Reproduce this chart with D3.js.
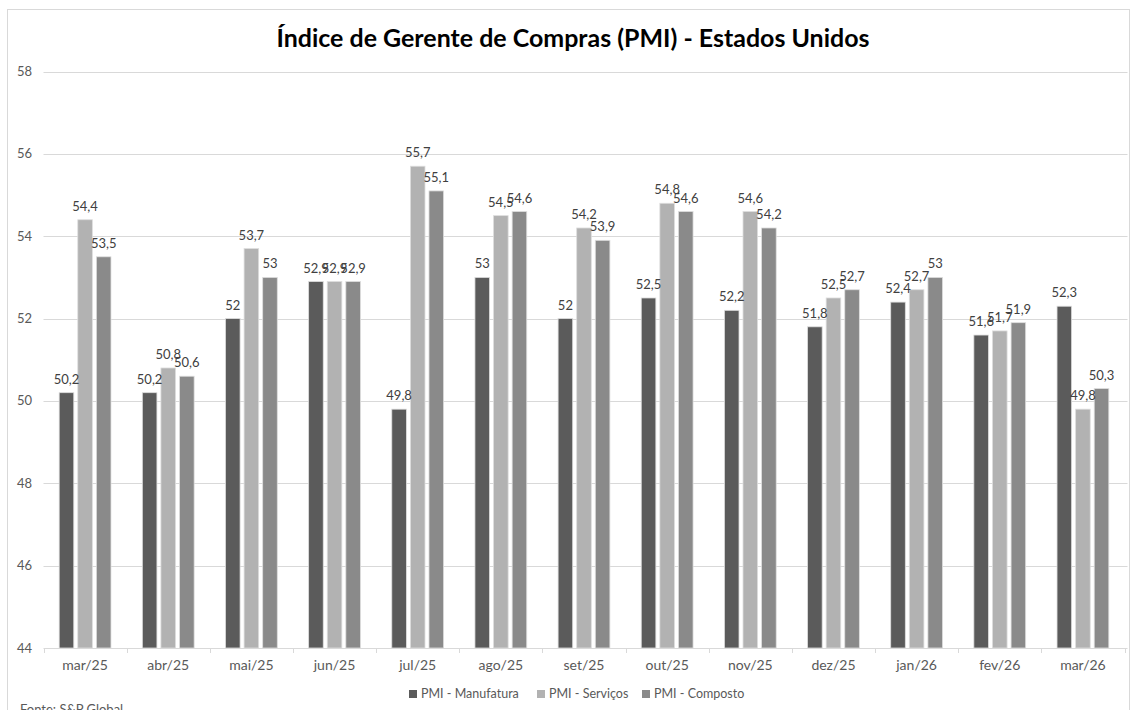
<!DOCTYPE html>
<html><head><meta charset="utf-8">
<script src="https://cdn.jsdelivr.net/npm/d3@7"></script>
<style>
html,body{margin:0;padding:0;background:#fff;}
svg{display:block;font-family:Lato,"Open Sans",sans-serif;}
</style></head>
<body>
<svg id="chart" width="1137" height="710"></svg>
<script>
const categories = ["mar/25","abr/25","mai/25","jun/25","jul/25","ago/25","set/25","out/25","nov/25","dez/25","jan/26","fev/26","mar/26"];
const manufatura = [50.2,50.2,52,52.9,49.8,53,52,52.5,52.2,51.8,52.4,51.6,52.3];
const servicos   = [54.4,50.8,53.7,52.9,55.7,54.5,54.2,54.8,54.6,52.5,52.7,51.7,49.8];
const composto   = [53.5,50.6,53,52.9,55.1,54.6,53.9,54.6,54.2,52.7,53,51.9,50.3];
const seriesNames = ["PMI - Manufatura","PMI - Serviços","PMI - Composto"];
const yTicks = [44,46,48,50,52,54,56,58];
const title = "Índice de Gerente de Compras (PMI) - Estados Unidos";
const source = "Fonte: S&P Global";

const colors = ["#5b5b5b","#b2b2b2","#8a8a8a"];
const seriesVals = [manufatura, servicos, composto];

const svg = d3.select("#chart");
const pLeft = 43.5, pRight = 1124.5, pTop = 71.5, pBottom = 648;

svg.append("rect").attr("x",7.5).attr("y",9.5).attr("width",1122).attr("height",720)
  .attr("fill","#fff").attr("stroke","#d9d9d9").attr("stroke-width",1);

const x = d3.scaleBand().domain(categories).range([pLeft,pRight]).paddingInner(0).paddingOuter(0);
const y = d3.scaleLinear().domain([44,58]).range([pBottom,pTop]);

// gridlines
svg.append("g").selectAll("line").data(yTicks.filter(t=>t>44)).join("line")
  .attr("x1",pLeft).attr("x2",pRight+3)
  .attr("y1",d=>Math.round(y(d))+0.5).attr("y2",d=>Math.round(y(d))+0.5)
  .attr("stroke","#d9d9d9").attr("stroke-width",1);

// y labels
svg.append("g").selectAll("text").data(yTicks).join("text")
  .attr("x",32).attr("y",d=>y(d)+4.5).attr("text-anchor","end")
  .attr("font-size",13).attr("fill","#595959").text(d=>d);

// bars
const step = 18.6, bw = 14.6;
const g = svg.append("g");
categories.forEach((c,i)=>{
  const cx = x(c)+x.bandwidth()/2;
  seriesVals.forEach((vals,s)=>{
    const bx = cx + (s-1)*step - bw/2;
    g.append("rect").attr("x",bx).attr("y",y(vals[i])).attr("width",bw)
      .attr("height",y(44)-y(vals[i]))
      .attr("fill",colors[s]).attr("stroke","#dedede").attr("stroke-width",0.8);
  });
});

// x axis
const xa = svg.append("g");
xa.append("line").attr("x1",pLeft).attr("x2",pRight+3).attr("y1",pBottom+0.5).attr("y2",pBottom+0.5)
  .attr("stroke","#d9d9d9");
const bounds = categories.map(c=>x(c)).concat([pRight]);
xa.selectAll("line.tk").data(bounds).join("line").attr("class","tk")
  .attr("x1",d=>Math.round(d)+0.5).attr("x2",d=>Math.round(d)+0.5)
  .attr("y1",pBottom).attr("y2",pBottom+5).attr("stroke","#d9d9d9");
xa.selectAll("text").data(categories).join("text")
  .attr("x",d=>x(d)+x.bandwidth()/2).attr("y",pBottom+22).attr("text-anchor","middle")
  .attr("font-size",14).attr("fill","#595959").text(d=>d);

// data labels
const fmt = v => String(v).replace(".",",");
categories.forEach((c,i)=>{
  const cx = x(c)+x.bandwidth()/2;
  seriesVals.forEach((vals,s)=>{
    g.append("text").attr("x",cx+(s-1)*step).attr("y",y(vals[i])-9)
      .attr("text-anchor","middle").attr("font-size",13).attr("fill","#404040")
      .text(fmt(vals[i]));
  });
});

// title
svg.append("text").attr("x",573).attr("y",47).attr("text-anchor","middle")
  .attr("font-size",25).attr("font-weight","bold").attr("fill","#000")
  .attr("textLength",593).attr("lengthAdjust","spacingAndGlyphs").text(title);

// legend
const legX = [409, 537, 642];
const lg = svg.append("g");
seriesNames.forEach((n,s)=>{
  lg.append("rect").attr("x",legX[s]).attr("y",690).attr("width",8).attr("height",8).attr("fill",colors[s]);
  lg.append("text").attr("x",legX[s]+12).attr("y",698).attr("font-size",12.5).attr("fill","#595959").text(n);
});

// source
svg.append("text").attr("x",20).attr("y",714).attr("font-size",13).attr("fill","#595959").text(source);
</script>
</body></html>
